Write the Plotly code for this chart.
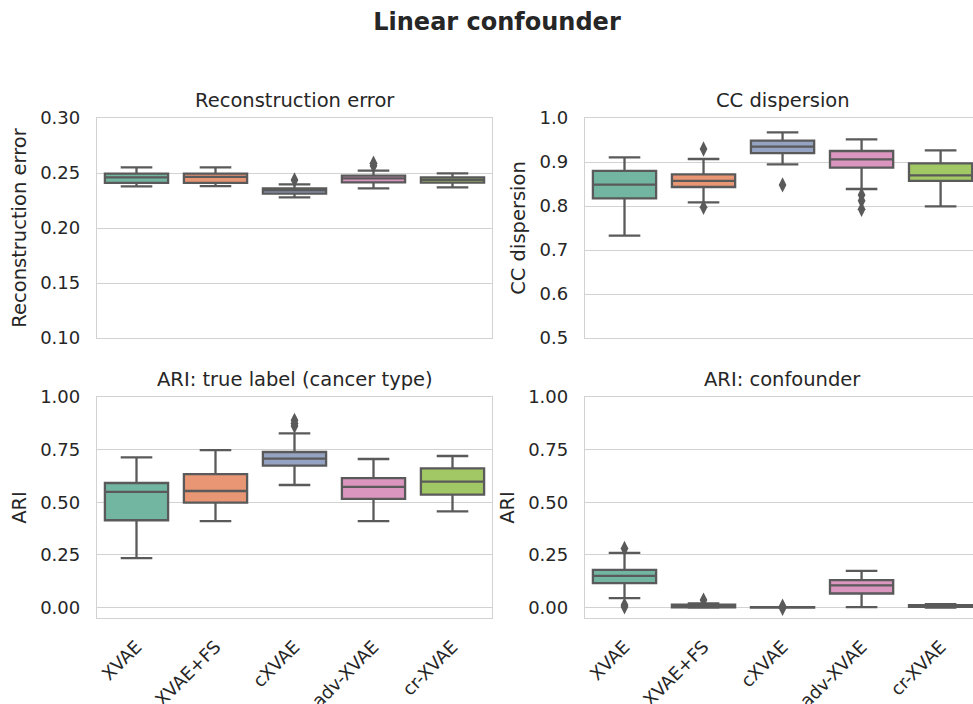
import colorsys
import plotly.graph_objects as go

# ---------------- data ----------------
methods = ["XVAE", "XVAE+FS", "cXVAE", "adv-XVAE", "cr-XVAE"]

# Reconstruction error
re_lo  = [0.2379, 0.2380, 0.2279, 0.2361, 0.2370]
re_q1  = [0.2410, 0.2410, 0.2312, 0.2415, 0.2412]
re_med = [0.2460, 0.2464, 0.2343, 0.2452, 0.2437]
re_q3  = [0.2494, 0.2494, 0.2361, 0.2476, 0.2461]
re_hi  = [0.2552, 0.2552, 0.2397, 0.2521, 0.2497]
re_out = [[], [], [0.2436], [0.2588, 0.2565], []]

# CC dispersion
cc_lo  = [0.7326, 0.8083, 0.8947, 0.8386, 0.7993]
cc_q1  = [0.8174, 0.8432, 0.9200, 0.8870, 0.8570]
cc_med = [0.8485, 0.8570, 0.9350, 0.9060, 0.8697]
cc_q3  = [0.8800, 0.8720, 0.9485, 0.9250, 0.8970]
cc_hi  = [0.9106, 0.9068, 0.9675, 0.9515, 0.9265]
cc_out = [[], [0.9295, 0.7970], [0.8480], [0.8250, 0.8120, 0.7925], []]

# ARI: true label (cancer type)
at_lo  = [0.234, 0.410, 0.582, 0.410, 0.457]
at_q1  = [0.4145, 0.498, 0.6737, 0.5157, 0.536]
at_med = [0.549, 0.5535, 0.707, 0.5726, 0.598]
at_q3  = [0.5915, 0.634, 0.7386, 0.615, 0.661]
at_hi  = [0.713, 0.748, 0.827, 0.7054, 0.7197]
at_out = [[], [], [0.889, 0.874, 0.862], [], []]

# ARI: confounder
ac_lo  = [0.044, 0.000, -0.001, 0.002, 0.000]
ac_q1  = [0.1155, 0.001, 0.000, 0.0665, 0.003]
ac_med = [0.150, 0.006, 0.0005, 0.1046, 0.007]
ac_q3  = [0.179, 0.013, 0.001, 0.130, 0.011]
ac_hi  = [0.2595, 0.019, 0.002, 0.174, 0.016]
ac_out = [[0.280, 0.012, 0.003], [0.035], [0.006, -0.004], [], []]

set2 = ["#66c2a5", "#fc8d62", "#8da0cb", "#e78ac3", "#a6d854"]


def desat(hexc, prop=0.75):
    r, g, b = (int(hexc[i:i + 2], 16) / 255 for i in (1, 3, 5))
    h, l, s = colorsys.rgb_to_hls(r, g, b)
    r, g, b = colorsys.hls_to_rgb(h, l, s * prop)
    return "#%02x%02x%02x" % (round(r * 255), round(g * 255), round(b * 255))


colors = [desat(c) for c in set2]
GRAY = "#5a5a5a"
TXT = "#262626"
GRID = "#d2d2d2"
FONT = "DejaVu Sans"

W, H = 973, 704
fig = go.Figure()

panels = [
    ("x", "y", re_lo, re_q1, re_med, re_q3, re_hi, re_out),
    ("x2", "y2", cc_lo, cc_q1, cc_med, cc_q3, cc_hi, cc_out),
    ("x3", "y3", at_lo, at_q1, at_med, at_q3, at_hi, at_out),
    ("x4", "y4", ac_lo, ac_q1, ac_med, ac_q3, ac_hi, ac_out),
]

for xa, ya, lo, q1, med, q3, hi, out in panels:
    for i, m in enumerate(methods):
        fig.add_trace(go.Box(
            x=[m], q1=[q1[i]], median=[med[i]], q3=[q3[i]],
            lowerfence=[lo[i]], upperfence=[hi[i]],
            width=0.8, whiskerwidth=0.5, boxpoints=False,
            fillcolor=colors[i], line=dict(color=GRAY, width=2.3),
            xaxis=xa, yaxis=ya, showlegend=False, hoverinfo="skip"))
        if out[i]:
            fig.add_trace(go.Scatter(
                x=[m] * len(out[i]), y=out[i], mode="markers",
                marker=dict(symbol="diamond-tall", size=11, color=GRAY),
                xaxis=xa, yaxis=ya, showlegend=False, hoverinfo="skip"))

# layout geometry (pixels -> paper)
xl = [97 / W, 492 / W]
xr = [585 / W, 1.0]
yt = [(H - 338) / H, (H - 118) / H]
yb = [(H - 618) / H, (H - 397) / H]

tickfont = dict(family=FONT, size=18, color=TXT)
titlefont = dict(family=FONT, size=19.5, color=TXT)


def xaxis(domain, rng, anchor, labels, mirror=True):
    return dict(domain=domain, range=rng, anchor=anchor, type="category",
                categoryorder="array", categoryarray=methods,
                showgrid=False, showline=True, mirror=mirror,
                linecolor=GRID, linewidth=1.3, ticks="", automargin=False,
                showticklabels=labels, tickangle=-45, tickfont=tickfont,
                ticklabelstandoff=10, zeroline=False)


def yaxis(domain, rng, anchor, dtick, fmt, title, mirror):
    return dict(domain=domain, range=rng, anchor=anchor, dtick=dtick, tick0=0,
                tickformat=fmt, showgrid=True, gridcolor=GRID, gridwidth=1.3,
                showline=True, mirror=mirror, linecolor=GRID, linewidth=1.3,
                ticks="", tickfont=tickfont, ticklabelstandoff=12,
                zeroline=False, automargin=False,
                title=dict(text=title, font=titlefont, standoff=8))


fig.update_layout(
    width=W, height=H, margin=dict(l=0, r=0, t=0, b=0, autoexpand=False),
    paper_bgcolor="white", plot_bgcolor="white",
    font=dict(family=FONT, color=TXT),
    boxmode="overlay",
    title=dict(text="<b>Linear confounder</b>", x=497 / W, xanchor="center",
               y=1 - 22 / H, yanchor="middle", automargin=False,
               font=dict(family=FONT, size=24, color=TXT)),
    xaxis=xaxis(xl, [-0.5, 4.5], "y", False),
    yaxis=yaxis(yt, [0.10, 0.30], "x", 0.05, ".2f", "Reconstruction error", True),
    xaxis2=xaxis(xr, [-0.5, 4.41], "y2", False),
    yaxis2=yaxis(yt, [0.5, 1.0], "x2", 0.1, ".1f", "CC dispersion", False),
    xaxis3=xaxis(xl, [-0.5, 4.5], "y3", True),
    yaxis3=yaxis(yb, [-0.05, 1.0], "x3", 0.25, ".2f", "ARI", True),
    xaxis4=xaxis(xr, [-0.5, 4.41], "y4", True),
    yaxis4=yaxis(yb, [-0.05, 1.0], "x4", 0.25, ".2f", "ARI", False),
)

subtitles = [("Reconstruction error", xl, yt), ("CC dispersion", [585 / W, 980 / W], yt),
             ("ARI: true label (cancer type)", xl, yb), ("ARI: confounder", [585 / W, 980 / W], yb)]
for text, dx, dy in subtitles:
    fig.add_annotation(text=text, x=(dx[0] + dx[1]) / 2, y=dy[1], xref="paper", yref="paper",
                       xanchor="center", yanchor="bottom", yshift=4, showarrow=False,
                       font=titlefont)

fig.write_html("out.html")
